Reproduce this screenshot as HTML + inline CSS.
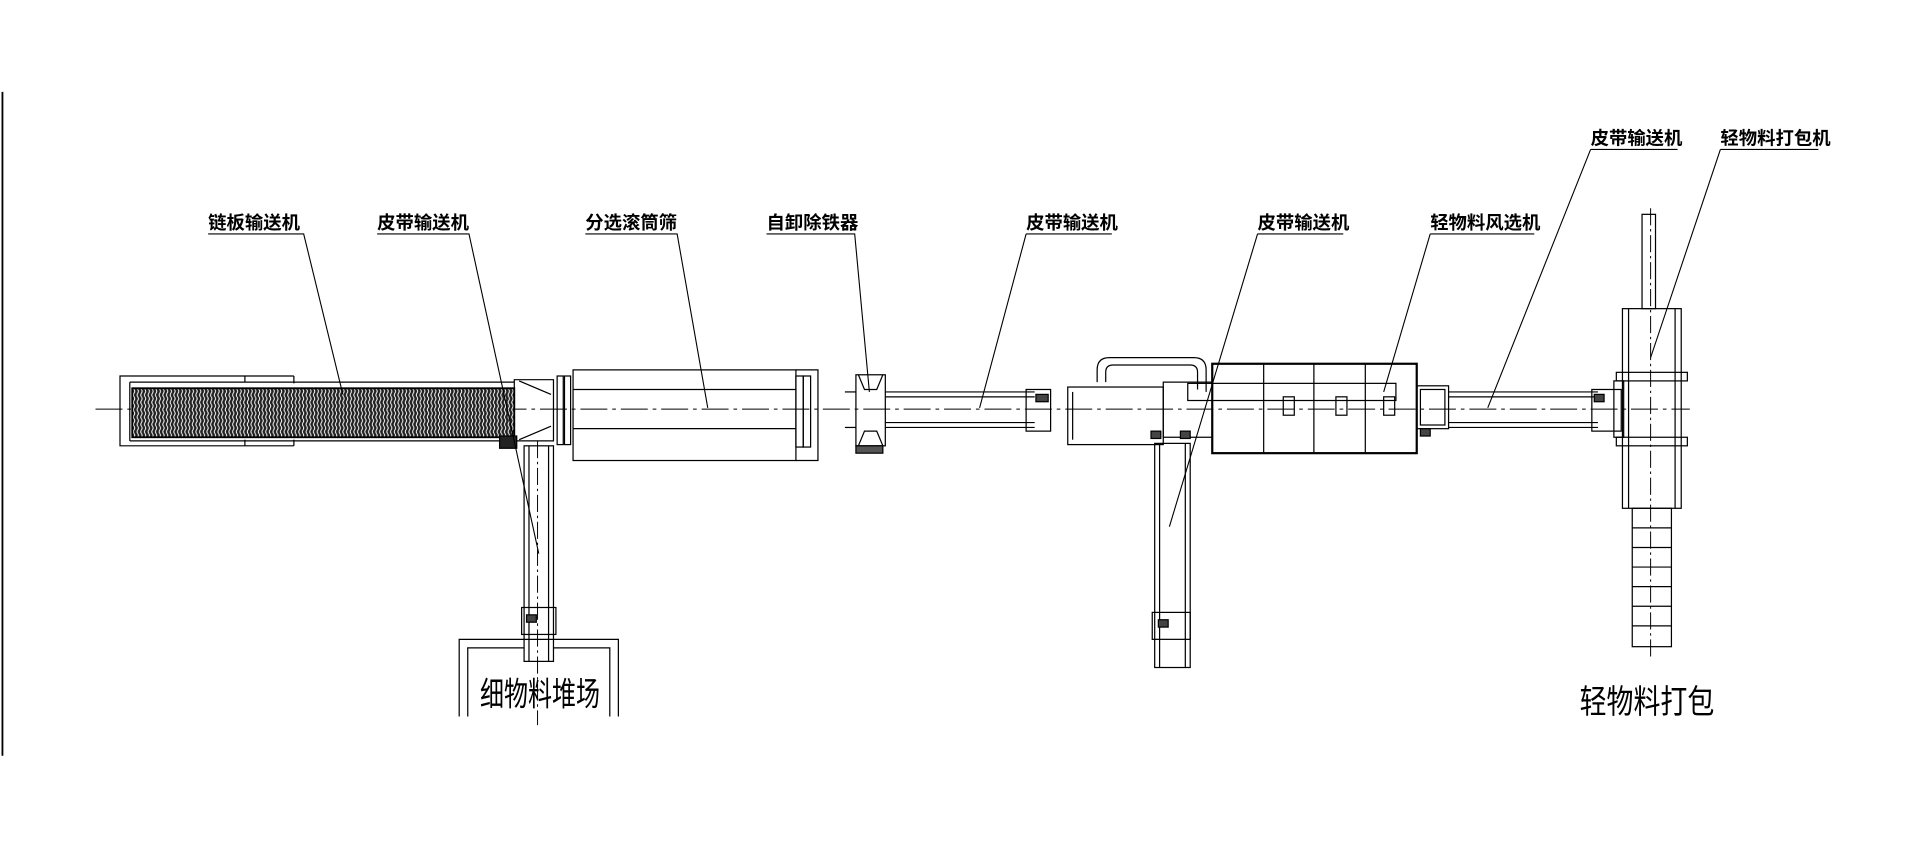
<!DOCTYPE html>
<html><head><meta charset="utf-8"><style>
html,body{margin:0;padding:0;background:#fff;}
svg{display:block;}
text{font-family:"Liberation Sans","Noto Sans CJK SC",sans-serif;}
</style></head><body>
<svg width="1920" height="850" viewBox="0 0 1568 694" preserveAspectRatio="none" xmlns="http://www.w3.org/2000/svg">
<defs>
<pattern id="hatch" width="3" height="6" patternUnits="userSpaceOnUse">
<rect width="3" height="6" fill="#222"/>
<path d="M1.5 0 Q2.6 1.5 1.5 3 Q0.4 4.5 1.5 6" stroke="#fff" stroke-width="0.8" fill="none"/>
</pattern>
</defs>
<g stroke="#000" fill="none" stroke-width="1">
<line x1="2" y1="75" x2="2" y2="617" stroke-width="1.5"/>
<line x1="78" y1="334" x2="1380" y2="334" stroke-dasharray="22,4,3,4" stroke-width="0.8"/>
<path d="M240 307 H98 V364 H240"/>
<line x1="200" y1="307" x2="200" y2="312"/><line x1="200" y1="359" x2="200" y2="364"/>
<line x1="240" y1="307" x2="240" y2="313"/><line x1="240" y1="359" x2="240" y2="364"/>
<line x1="106" y1="312" x2="420" y2="312"/><line x1="106" y1="360" x2="420" y2="360"/>
<line x1="106" y1="312" x2="106" y2="360"/>
<rect x="108" y="317" width="312" height="40" fill="url(#hatch)" stroke-width="1.5"/>
<path d="M420 310 H452 V360 H420 Z"/>
<path d="M424 311 L450 322 M424 359 L450 348"/>
<rect x="408" y="356" width="14" height="10" fill="#222"/>
<rect x="455" y="307" width="5" height="56"/><rect x="461" y="307" width="5" height="56"/>
<rect x="468" y="302" width="182" height="74"/>
<line x1="468" y1="318" x2="650" y2="318"/><line x1="468" y1="350" x2="650" y2="350"/>
<rect x="650" y="307" width="6" height="58"/><rect x="656" y="307" width="6" height="58"/>
<path d="M650 302 H668 V376 H650"/>
<rect x="699" y="306" width="24" height="58"/>
<path d="M701 306 L706 318 H716 L721 306 M701 364 L706 352 H716 L721 364"/>
<rect x="699" y="364" width="22" height="6" fill="#555"/>
<line x1="690" y1="320" x2="699" y2="320"/><line x1="690" y1="349" x2="699" y2="349"/>
<line x1="723" y1="320" x2="845" y2="320"/><line x1="723" y1="324" x2="845" y2="324"/>
<line x1="723" y1="349" x2="845" y2="349"/><line x1="723" y1="345" x2="845" y2="345"/>
<rect x="838" y="318" width="20" height="34"/><rect x="846" y="322" width="10" height="6" fill="#444"/>
<rect x="428" y="364" width="24" height="176"/>
<line x1="432" y1="364" x2="432" y2="540"/><line x1="448" y1="364" x2="448" y2="540"/>
<rect x="426" y="496" width="28" height="22"/><rect x="430" y="502" width="8" height="6" fill="#444"/>
<path d="M375 585 V522 H505 V585 M382 585 V529 H428 M452 529 H498 V585"/>
<line x1="439" y1="360" x2="439" y2="592" stroke-dasharray="14,3,2,3" stroke-width="0.8"/>
<rect x="872" y="316" width="78" height="47"/>
<line x1="876" y1="320" x2="876" y2="359"/>
<rect x="950" y="312" width="40" height="45"/>
<path d="M896 312 V302 Q896 292 906 292 H975 Q985 292 985 302 V320 M903 312 V304 Q903 298 909 298 H972 Q978 298 978 304 V318"/>
<rect x="990" y="297" width="167" height="73" stroke-width="1.8"/>
<line x1="1032" y1="297" x2="1032" y2="370"/><line x1="1073" y1="297" x2="1073" y2="370"/><line x1="1115" y1="297" x2="1115" y2="370"/>
<rect x="970" y="313" width="170" height="14"/>
<rect x="1048" y="324" width="9" height="15"/><rect x="1091" y="324" width="9" height="15"/><rect x="1130" y="324" width="9" height="15"/>
<rect x="1157" y="315" width="26" height="35"/><rect x="1160" y="318" width="20" height="29"/>
<rect x="1160" y="350" width="8" height="6" fill="#444"/>
<rect x="943" y="362" width="29" height="183"/>
<line x1="947" y1="362" x2="947" y2="545"/><line x1="968" y1="362" x2="968" y2="545"/>
<rect x="941" y="500" width="31" height="22"/><rect x="946" y="506" width="8" height="6" fill="#444"/>
<rect x="940" y="352" width="8" height="6" fill="#444"/><rect x="964" y="352" width="8" height="6" fill="#444"/>
<line x1="1183" y1="320" x2="1305" y2="320"/><line x1="1183" y1="324" x2="1305" y2="324"/>
<line x1="1183" y1="349" x2="1305" y2="349"/><line x1="1183" y1="345" x2="1305" y2="345"/>
<rect x="1300" y="318" width="24" height="34"/><rect x="1302" y="322" width="8" height="6" fill="#444"/>
<rect x="1341" y="175" width="11" height="77"/>
<rect x="1325" y="252" width="48" height="163"/>
<line x1="1330" y1="252" x2="1330" y2="415"/><line x1="1368" y1="252" x2="1368" y2="415"/>
<rect x="1320" y="304" width="58" height="7"/><rect x="1320" y="357" width="58" height="7"/>
<rect x="1318" y="311" width="8" height="46"/>
<rect x="1333" y="415" width="32" height="113"/>
<path d="M1333 431 H1365 M1333 447 H1365 M1333 463 H1365 M1333 479 H1365 M1333 495 H1365 M1333 511 H1365"/>
<line x1="1348" y1="170" x2="1348" y2="537" stroke-dasharray="14,3,2,3" stroke-width="0.8"/>
<g stroke-width="0.9">
<path d="M170 191 H248 L280 322"/>
<path d="M308 191 H383 L440 452"/>
<path d="M478 191 H553 L578 333"/>
<path d="M626 191 H698 L710 320"/>
<path d="M838 191 H908 M838 191 L800 333"/>
<path d="M1027 191 H1097 M1027 191 L955 430"/>
<path d="M1168 191 H1253 M1168 191 L1130 320"/>
<path d="M1299 122 H1370 M1299 122 L1215 333"/>
<path d="M1405 122 H1485 M1405 122 L1348 292"/>
</g>
</g>
<g font-size="15" font-weight="bold" fill="#000">
<text x="170" y="187">链板输送机</text>
<text x="308" y="187">皮带输送机</text>
<text x="478" y="187">分选滚筒筛</text>
<text x="626" y="187">自卸除铁器</text>
<text x="838" y="187">皮带输送机</text>
<text x="1027" y="187">皮带输送机</text>
<text x="1168" y="187">轻物料风选机</text>
<text x="1299" y="118">皮带输送机</text>
<text x="1405" y="118">轻物料打包机</text>
</g>
<g font-size="27" fill="#000">
<text x="392" y="576" textLength="98" lengthAdjust="spacingAndGlyphs">细物料堆场</text>
<text x="1290" y="582" textLength="110" lengthAdjust="spacingAndGlyphs">轻物料打包</text>
</g>
</svg>
</body></html>
